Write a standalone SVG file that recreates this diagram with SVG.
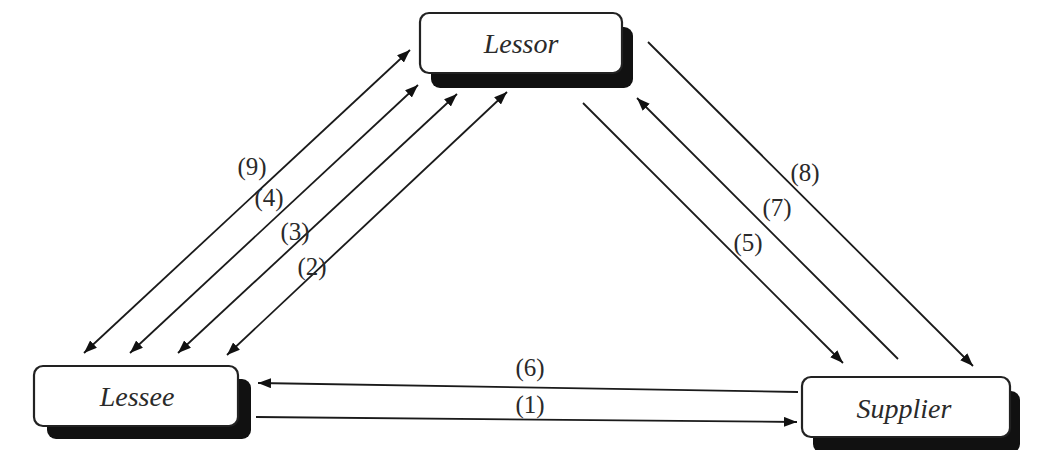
<svg xmlns="http://www.w3.org/2000/svg" width="1051" height="450" viewBox="0 0 1051 450">
  <defs>
    <marker id="ah" viewBox="0 0 13 10" markerUnits="userSpaceOnUse" markerWidth="13" markerHeight="10" refX="13" refY="5" orient="auto-start-reverse">
      <path d="M0,0 L13,5 L0,10 Z" fill="#111"/>
    </marker>
  </defs>
  <style>
    .shadow { fill: #111; }
    .box { fill: #fff; stroke: #222; stroke-width: 2.2; }
    .name { font-family: "Liberation Serif", "Times New Roman", serif; font-style: italic; font-size: 28px; fill: #2a2a2a; text-anchor: middle; }
    .lbl { font-family: "Liberation Serif", "Times New Roman", serif; font-size: 25px; fill: #2a2a2a; text-anchor: middle; }
    .ln { stroke: #1a1a1a; stroke-width: 1.8; fill: none; }
  </style>
  <rect width="1051" height="450" fill="#fff"/>

  <g id="lessor">
    <rect class="shadow" x="431" y="27" width="202" height="61" rx="9"/>
    <rect class="box" x="420" y="13" width="202" height="60" rx="9"/>
    <text class="name" x="521" y="53">Lessor</text>
  </g>

  <g id="lessee">
    <rect class="shadow" x="47" y="379" width="204" height="60" rx="9"/>
    <rect class="box" x="34" y="366" width="204" height="60" rx="9"/>
    <text class="name" x="137" y="406">Lessee</text>
  </g>

  <g id="supplier">
    <rect class="shadow" x="813" y="391" width="207" height="62" rx="9"/>
    <rect class="box" x="802" y="377" width="208" height="60" rx="9"/>
    <text class="name" x="904" y="418">Supplier</text>
  </g>

  <g id="connectors">
    <line class="ln" x1="410" y1="50" x2="84" y2="353" marker-start="url(#ah)" marker-end="url(#ah)"/>
    <line class="ln" x1="418" y1="85" x2="130" y2="353" marker-start="url(#ah)" marker-end="url(#ah)"/>
    <line class="ln" x1="457" y1="94" x2="178" y2="353" marker-start="url(#ah)" marker-end="url(#ah)"/>
    <line class="ln" x1="507" y1="92" x2="227" y2="355" marker-start="url(#ah)" marker-end="url(#ah)"/>

    <line class="ln" x1="583" y1="103" x2="843" y2="363" marker-end="url(#ah)"/>
    <line class="ln" x1="898" y1="359" x2="637" y2="98" marker-end="url(#ah)"/>
    <line class="ln" x1="648" y1="42" x2="973" y2="366" marker-end="url(#ah)"/>

    <line class="ln" x1="798" y1="392" x2="258" y2="383" marker-end="url(#ah)"/>
    <line class="ln" x1="256" y1="417" x2="797" y2="422" marker-end="url(#ah)"/>

    <text class="lbl" x="252" y="175">(9)</text>
    <text class="lbl" x="269" y="206">(4)</text>
    <text class="lbl" x="295" y="240">(3)</text>
    <text class="lbl" x="312" y="275">(2)</text>
    <text class="lbl" x="805" y="181">(8)</text>
    <text class="lbl" x="777" y="216">(7)</text>
    <text class="lbl" x="748" y="251">(5)</text>
    <text class="lbl" x="530" y="376">(6)</text>
    <text class="lbl" x="530" y="413">(1)</text>
  </g>
</svg>
